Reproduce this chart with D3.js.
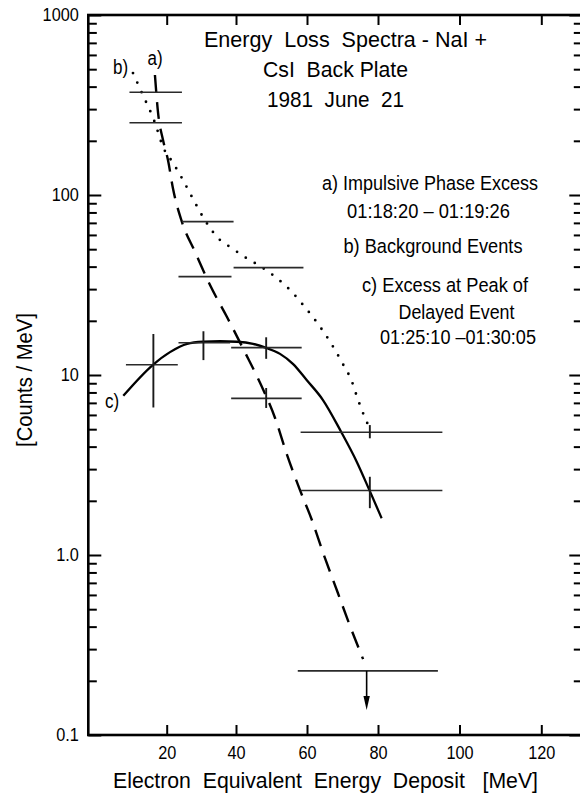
<!DOCTYPE html>
<html><head><meta charset="utf-8">
<script src="https://cdn.jsdelivr.net/npm/d3@7"></script>
<style>
body{margin:0;background:#fff}
svg{display:block;font-family:"Liberation Sans",Arial,Helvetica,sans-serif}
text{white-space:pre}
</style></head><body>
<svg id="chart" width="580" height="795"></svg>
<script>
// ---------------- data ----------------
const xTickValues = [20, 40, 60, 80, 100, 120];
const yMajorValues = [0.1, 1, 10, 100, 1000];
const yMajorLabels = ["0.1", "1.0", "10", "100", "1000"];

// a) Impulsive phase excess : bins [x0,x1] MeV, value counts/MeV
const binsA = [
  {x0: 10.5, x1: 24.4, v: 252},
  {x0: 23.4, x1: 38.7, v: 35.2},
  {x0: 38.6, x1: 58.5, v: 7.42, xc: 48.5, lo: 6.56, hi: 8.47},
  {x0: 57.4, x1: 94.7, v: 0.227, xc: 76.8, limit: 0.1375}
];
// b) Background events
const binsB = [
  {x0: 10.5, x1: 24.4, v: 372},
  {x0: 24.4, x1: 39.3, v: 71.1},
  {x0: 39.3, x1: 59.0, v: 39.5},
  {x0: 58.2, x1: 95.8, v: 4.81, xc: 77.7, lo: 4.45, hi: 5.27}
];
// c) Excess at peak of delayed event
const binsC = [
  {x0: 9.6, x1: 23.2, v: 11.4, xc: 16.6, lo: 6.6, hi: 16.9},
  {x0: 23.4, x1: 38.3, v: 15.1, xc: 30.6, lo: 12.1, hi: 17.5},
  {x0: 38.6, x1: 58.5, v: 14.2, xc: 48.5, lo: 12.3, hi: 16.2},
  {x0: 58.2, x1: 95.8, v: 2.28, xc: 77.7, lo: 1.82, hi: 2.72}
];

// fitted curves [MeV, counts/MeV]
const curveA = [[17.0,464],[17.8,286],[19.06,202],[20.38,156],[21.8,109],[24.4,70.8],[28.2,48.2],[32.5,31.6],[37.4,21.0],[42.5,13.4],[46.8,9.03],[51.0,5.77],[54.4,3.59],[58.0,2.30],[61.4,1.56],[64.6,1.02],[68.7,0.615],[71.8,0.419],[75.8,0.264]];
const curveB = [[11.4,476],[13.6,372],[17.0,252],[19.06,185],[21.8,151],[24.4,124],[27.3,97.5],[31.0,72.6],[35.4,56.2],[38.3,51.4],[42.5,45.2],[47.6,39.3],[50.4,35.9],[55.2,29.7],[58.9,24.5],[63.7,18.5],[66.5,15.3],[69.9,11.7],[72.7,9.14],[74.1,7.55],[76.6,5.62],[77.5,5.14]];
const curveC = [[8.93,7.67],[16.5,11.4],[20.95,13.4],[25.9,14.9],[30.5,15.3],[35.4,15.4],[40.3,15.3],[44.8,14.9],[48.7,14.1],[52.4,13.1],[56.1,11.5],[59.9,9.38],[64.5,7.26],[69.6,4.84],[74.0,3.30],[77.55,2.30],[80.9,1.60]];

const titleLines = ["Energy  Loss  Spectra - NaI +", "CsI  Back Plate", "1981  June  21"];
const legendLines = ["a) Impulsive Phase Excess", "01:18:20 \u2013 01:19:26", "b) Background Events",
  "c) Excess at Peak of", "Delayed Event", "01:25:10 \u201301:30:05"];
const curveLabels = ["a)", "b)", "c)"];
const xTitle = "Electron  Equivalent  Energy  Deposit   [MeV]";
const yTitle = "[Counts / MeV]";

// ---------------- layout ----------------
const svg = d3.select("#chart");
const pLeft = 88.3, pTop = 15, pBottom = 735, pRight = 582.3;

// the original axis is not evenly spaced: piecewise linear calibration
const x = d3.scaleLinear()
  .domain([0, 20, 40, 60, 80, 100, 120, 130])
  .range([pLeft, 166.7, 236, 307, 378, 459.5, 541.3, pRight]);
const y = d3.scaleLog().domain([0.1, 1000]).range([pBottom, pTop]);

const yMinor = [];
[0.1, 1, 10, 100].forEach(d => { for (let k = 2; k <= 9; k++) yMinor.push(d * k); });

// narrow the glyphs like the condensed typeface of the original
function condense(sel, f) {
  sel.each(function () {
    const w = this.getComputedTextLength();
    if (w > 0) d3.select(this).attr("textLength", w * f).attr("lengthAdjust", "spacingAndGlyphs");
  });
}

function styleAxis(g, fs) {
  g.select(".domain").remove();
  g.selectAll(".tick line").attr("stroke", "#000").attr("stroke-width", 2);
  g.selectAll("text").attr("fill", "#000").attr("font-size", fs)
    .attr("font-family", "Liberation Sans, Arial, sans-serif");
  condense(g.selectAll("text"), 0.88);
}

// bottom axis
svg.append("g").attr("transform", `translate(0,${pBottom})`)
  .call(d3.axisBottom(x).tickValues(xTickValues).tickSizeInner(-10).tickSizeOuter(0).tickPadding(11))
  .call(g => styleAxis(g, 18.5));
// top axis
svg.append("g").attr("transform", `translate(0,${pTop})`)
  .call(d3.axisTop(x).tickValues(xTickValues).tickSizeInner(-10).tickSizeOuter(0).tickFormat(""))
  .call(g => styleAxis(g, 18));
// left axis
svg.append("g").attr("transform", `translate(${pLeft},0)`)
  .call(d3.axisLeft(y).tickValues(yMajorValues).tickFormat((d, i) => yMajorLabels[i])
    .tickSizeInner(-13).tickSizeOuter(0).tickPadding(9.5))
  .call(g => styleAxis(g, 18.5));
svg.append("g").attr("transform", `translate(${pLeft},0)`)
  .call(d3.axisLeft(y).tickValues(yMinor).tickFormat("").tickSizeInner(-8.5).tickSizeOuter(0))
  .call(g => styleAxis(g, 18));
// right axis
svg.append("g").attr("transform", `translate(${pRight},0)`)
  .call(d3.axisRight(y).tickValues(yMajorValues).tickFormat("").tickSizeInner(-13).tickSizeOuter(0))
  .call(g => styleAxis(g, 18));
svg.append("g").attr("transform", `translate(${pRight},0)`)
  .call(d3.axisRight(y).tickValues(yMinor).tickFormat("").tickSizeInner(-8.5).tickSizeOuter(0))
  .call(g => styleAxis(g, 18));

// frame
svg.append("rect").attr("x", pLeft).attr("y", pTop)
  .attr("width", pRight - pLeft).attr("height", pBottom - pTop)
  .attr("fill", "none").attr("stroke", "#000").attr("stroke-width", 2.6);

// ---------------- curves ----------------
const line = d3.line().x(d => x(d[0])).y(d => y(d[1])).curve(d3.curveMonotoneX);
svg.append("path").attr("d", line(curveA)).attr("fill", "none").attr("stroke", "#000")
  .attr("stroke-width", 2.4).attr("stroke-dasharray", "17,10");
svg.append("path").attr("d", line(curveB)).attr("fill", "none").attr("stroke", "#000")
  .attr("stroke-width", 2.8).attr("stroke-linecap", "round").attr("stroke-dasharray", "0,10.5");
svg.append("path").attr("d", line(curveC)).attr("fill", "none").attr("stroke", "#000")
  .attr("stroke-width", 2.3);

// ---------------- bins & error bars ----------------
const allBins = [...binsA, ...binsB, ...binsC];
svg.append("g").selectAll("line").data(allBins).join("line")
  .attr("x1", d => x(d.x0)).attr("x2", d => x(d.x1))
  .attr("y1", d => y(d.v)).attr("y2", d => y(d.v))
  .attr("stroke", "#2a2a2a").attr("stroke-width", 1.6);
svg.append("g").selectAll("line").data(allBins.filter(d => d.lo !== undefined)).join("line")
  .attr("x1", d => x(d.xc)).attr("x2", d => x(d.xc))
  .attr("y1", d => y(d.lo)).attr("y2", d => y(d.hi))
  .attr("stroke", "#1a1a1a").attr("stroke-width", 1.9);

// upper limit arrow
const lim = binsA.filter(d => d.limit !== undefined);
lim.forEach(d => {
  const cx = x(d.xc), y0 = y(d.v), y1 = y(d.limit);
  svg.append("line").attr("x1", cx).attr("x2", cx).attr("y1", y0).attr("y2", y1 - 12)
    .attr("stroke", "#000").attr("stroke-width", 1.6);
  svg.append("path").attr("d", `M${cx - 3.2},${y1 - 14}L${cx + 3.2},${y1 - 14}L${cx},${y1}Z`)
    .attr("fill", "#000");
});

// ---------------- texts ----------------
const titlePos = [[204, 47, 283], [263, 77, 145], [267, 107, 137]];
svg.append("g").selectAll("text").data(titleLines).join("text")
  .attr("x", (d, i) => titlePos[i][0]).attr("y", (d, i) => titlePos[i][1])
  .attr("textLength", (d, i) => titlePos[i][2]).attr("lengthAdjust", "spacingAndGlyphs")
  .attr("font-size", 22.5).text(d => d);

const legendPos = [[322, 190, 216], [347, 218, 163], [343.5, 253, 179], [362, 292, 166], [398.5, 319, 116], [380, 344, 156]];
svg.append("g").selectAll("text").data(legendLines).join("text")
  .attr("x", (d, i) => legendPos[i][0]).attr("y", (d, i) => legendPos[i][1])
  .attr("textLength", (d, i) => legendPos[i][2]).attr("lengthAdjust", "spacingAndGlyphs")
  .attr("font-size", 20.5).text(d => d);

const labelPos = [[147.5, 65], [113, 74], [105, 408]];
svg.append("g").selectAll("text").data(curveLabels).join("text")
  .attr("x", (d, i) => labelPos[i][0]).attr("y", (d, i) => labelPos[i][1])
  .attr("font-size", 20).text(d => d)
  .call(s => condense(s, 0.85));

svg.append("text").attr("x", 113).attr("y", 788).attr("font-size", 22.5)
  .attr("textLength", 425).attr("lengthAdjust", "spacingAndGlyphs").text(xTitle);
svg.append("text").attr("transform", "translate(32,380) rotate(-90)")
  .attr("text-anchor", "middle").attr("font-size", 22)
  .attr("textLength", 134).attr("lengthAdjust", "spacingAndGlyphs").text(yTitle);
</script>
</body></html>
